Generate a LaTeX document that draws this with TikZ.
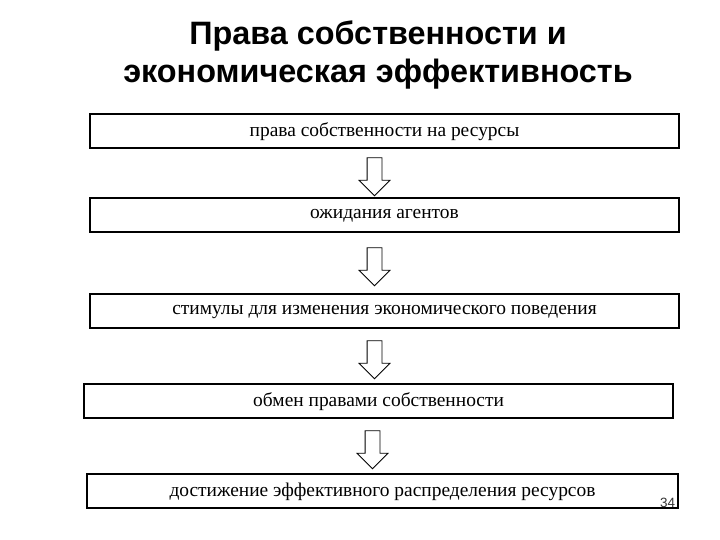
\documentclass[tikz,border=0pt]{standalone}
\usepackage{fontspec}
\setmainfont{Liberation Serif}
\newfontfamily\titlefont{Liberation Sans}
\usetikzlibrary{shapes.arrows,calc}

\begin{document}
\begin{tikzpicture}[x=1bp,y=-1bp,
    stage/.style={draw,line width=1.2bp,minimum height=34bp,inner sep=0pt,text depth=2bp,font=\fontsize{19.5}{22}\selectfont},
    downarrow/.style={single arrow,draw,line width=0.8bp,rotate=-90,inner xsep=0pt,inner ysep=7bp,minimum height=38bp,single arrow head extend=8bp}]
  \useasboundingbox (0,0) rectangle (720,540);
  \node[align=center,font=\titlefont\bfseries\fontsize{32.5}{38}\selectfont] (title) at (378,55) {Права собственности и\\экономическая эффективность};
  \node[stage,minimum width=589bp] (rights) at (384.5,131) {права собственности на ресурсы}; % box 1
  \node[stage,minimum width=589bp] (expect) at (384.5,215) {ожидания агентов};
  \node[stage,minimum width=589bp] (incent) at (384.5,311) {стимулы для изменения экономического поведения};
  \node[stage,minimum width=589bp] (trade) at (378.5,401) {обмен правами собственности};
  \node[stage,minimum width=591bp] (effic) at (382.5,491) {достижение эффективного распределения ресурсов}; % last box
  \node[downarrow] (a1) at ($(rights.south)!.5!(expect.north)+(-10,0)$) {};
  \node[downarrow] (a2) at ($(expect.south)!.5!(incent.north)+(-10,0)$) {};
  \node[downarrow] (a3) at ($(incent.south)!.5!(trade.north)+(-7,0)$) {};
  \node[downarrow] (a4) at ($(trade.south)!.5!(effic.north)+(-8,0)$) {};
  \node[font=\titlefont\fontsize{13.5}{15}\selectfont,text=black!80] (pagenum) at (667.5,503) {34};
\end{tikzpicture}
\end{document}
